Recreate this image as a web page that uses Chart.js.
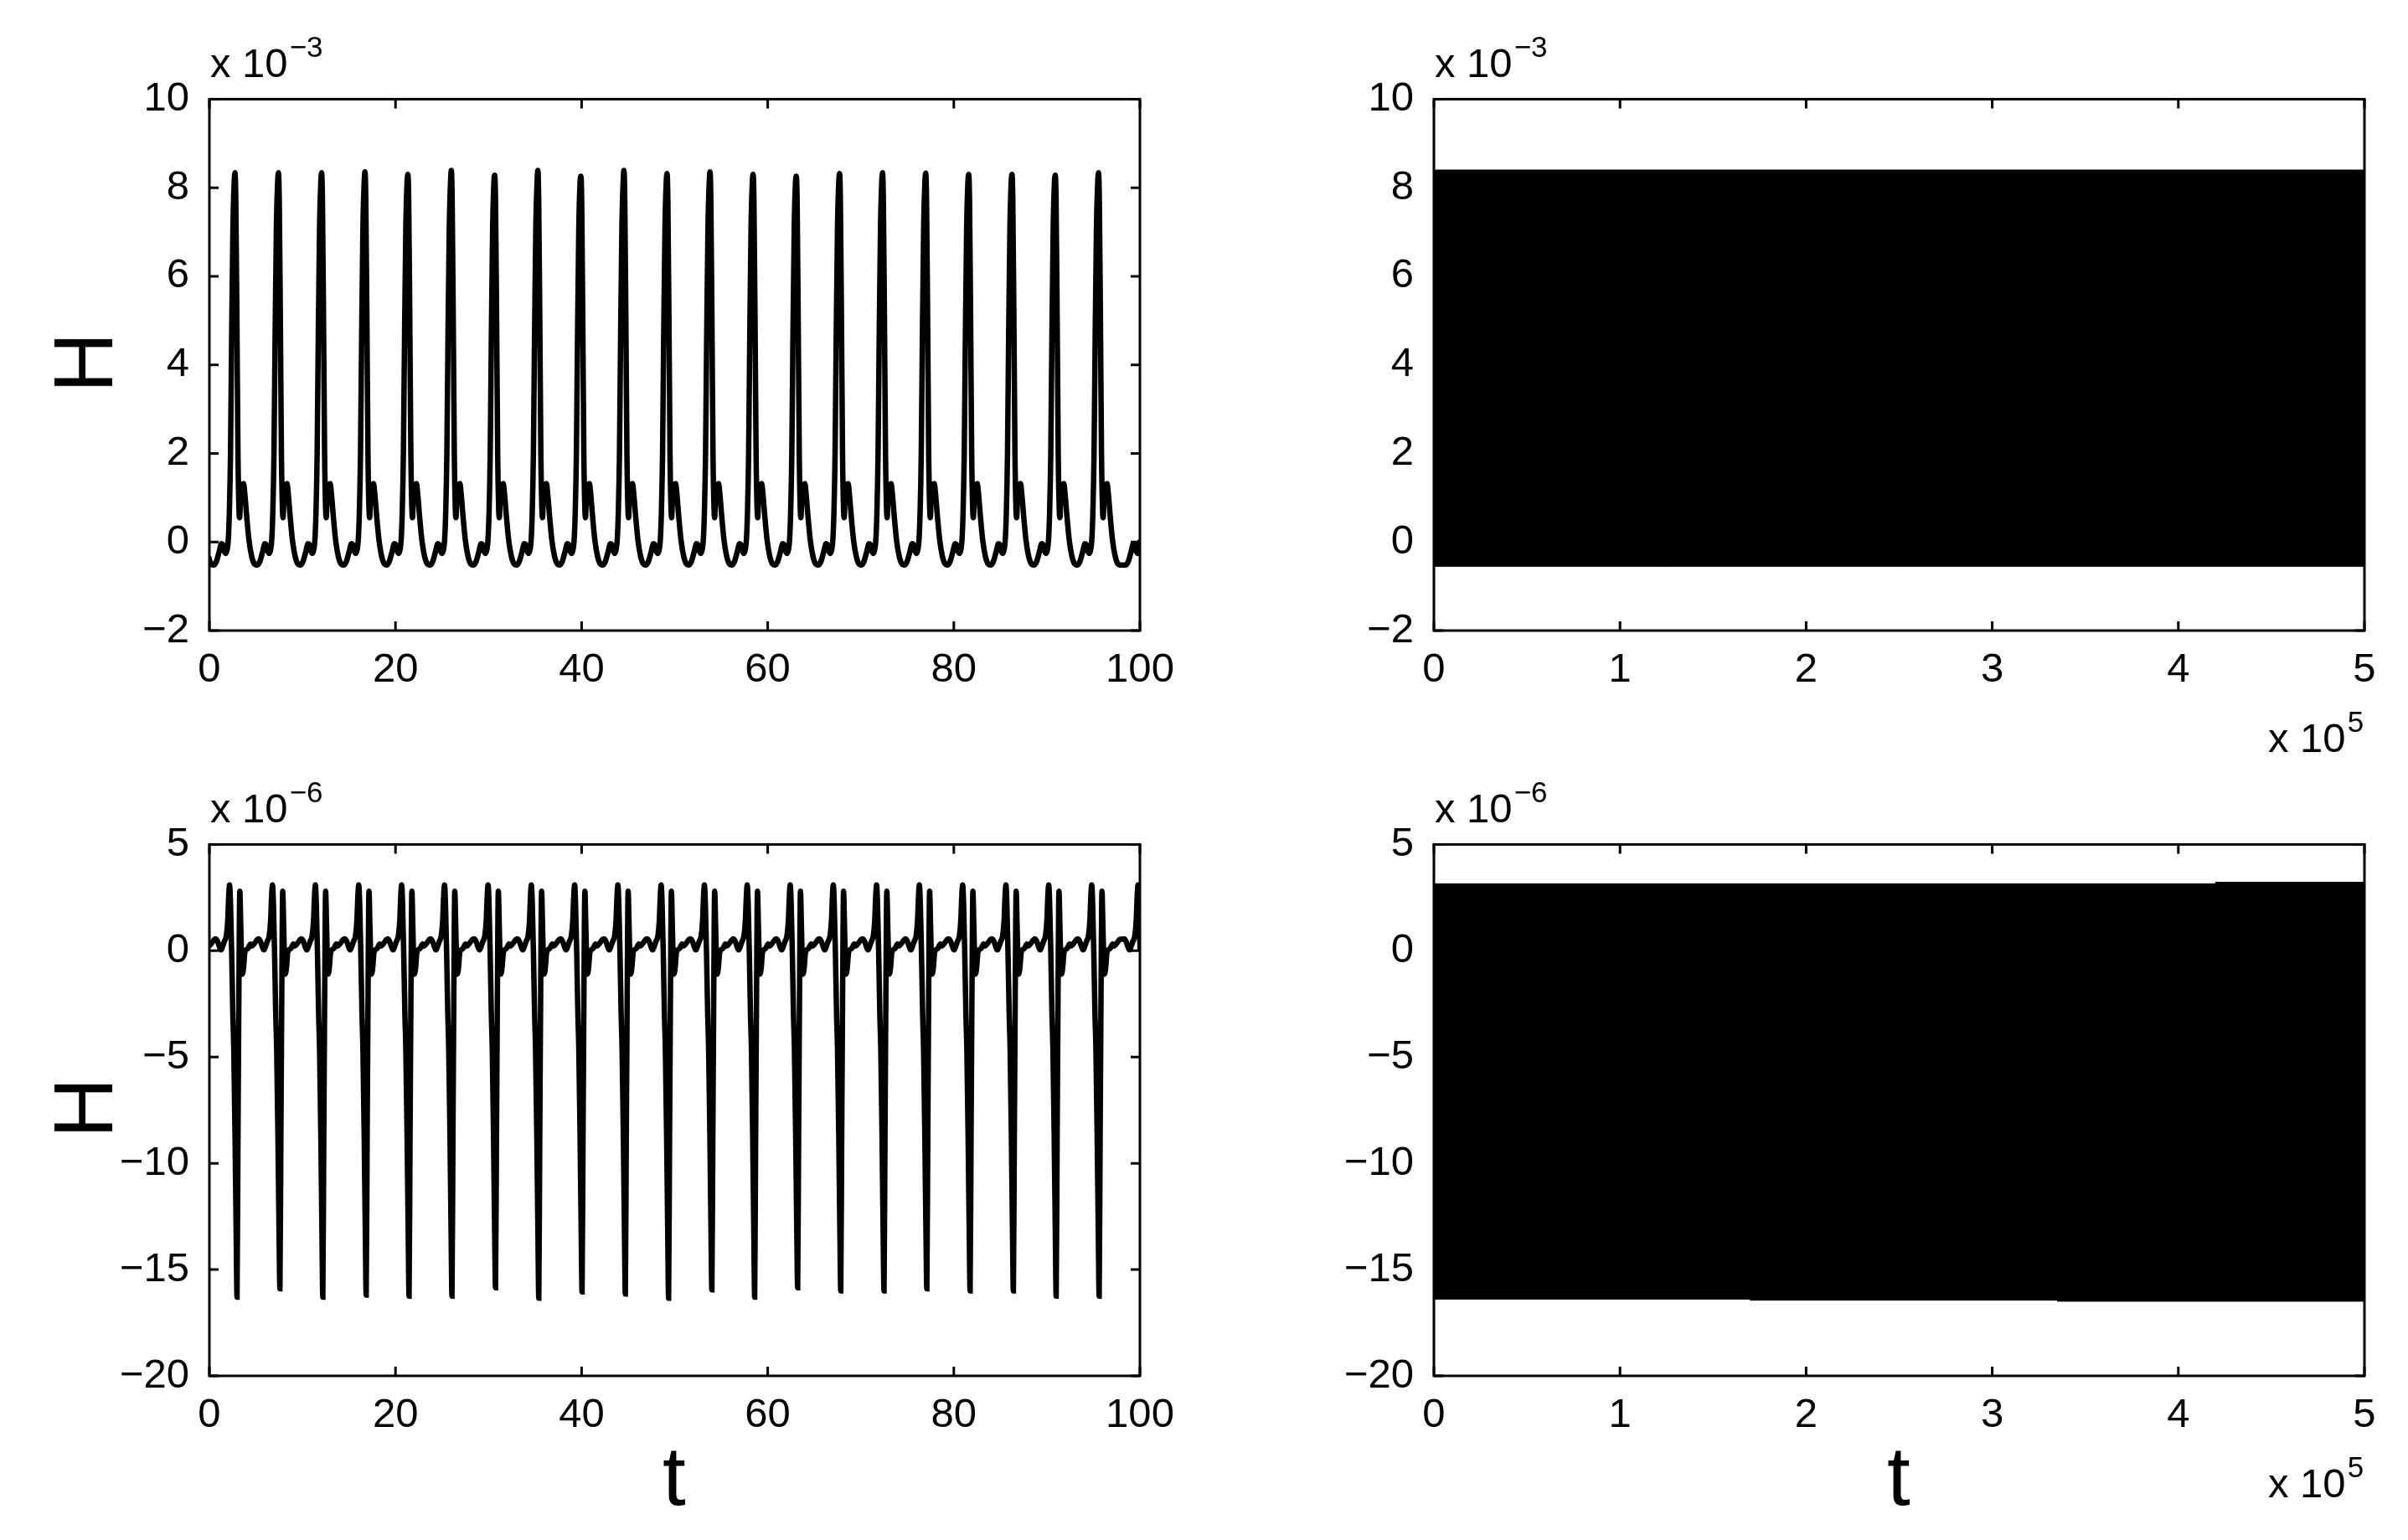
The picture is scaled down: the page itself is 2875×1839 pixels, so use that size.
<!DOCTYPE html>
<html>
<head>
<meta charset="utf-8">
<script src="https://cdn.jsdelivr.net/npm/chart.js@4.4.0/dist/chart.umd.min.js"></script>
<style>
  body { margin: 0; background: #fff; }
  #page { position: relative; width: 2875px; height: 1839px; overflow: hidden; background: #fff;
          font-family: "Liberation Sans", Arial, Helvetica, sans-serif; color: #000; }
  #page canvas { position: absolute; }
  .lbl { position: absolute; line-height: 1; white-space: nowrap; }
</style>
</head>
<body>
<div id="page">
  <canvas id="tl"></canvas>
  <canvas id="tr"></canvas>
  <canvas id="bl"></canvas>
  <canvas id="br"></canvas>
</div>
<script>
// top row values are in units of 1e-3, bottom row in units of 1e-6
// right column time is in units of 1e5

// tick labels
const leftXTicks = [0, 20, 40, 60, 80, 100];
const rightXTicks = [0, 1, 2, 3, 4, 5];
const topYTicks = [-2, 0, 2, 4, 6, 8, 10];
const bottomYTicks = [-20, -15, -10, -5, 0, 5];

// top-left: times and heights of the big peaks (first and last lie outside 0..100)
const tlPeakT = [-1.89, 2.75, 7.42, 12.06, 16.72, 21.33, 26.0, 30.66, 35.3, 39.92, 44.55, 49.18,
                 53.8, 58.43, 63.07, 67.72, 72.34, 76.98, 81.6, 86.25, 90.9, 95.55, 100.75];
const tlPeakH = [8.3, 8.34, 8.34, 8.34, 8.36, 8.3, 8.39, 8.28, 8.39, 8.26, 8.39, 8.32,
                 8.36, 8.3, 8.26, 8.32, 8.34, 8.33, 8.3, 8.3, 8.28, 8.34, 8.3];
// one cycle read around a peak: offset from the peak time, value
const tlShapeDt = [-2.26, -2.0, -1.7, -1.45, -1.3, -1.15, -1.0, -0.85, -0.72, -0.6, -0.48, -0.36, -0.22, -0.09, 0,
                   0.09, 0.2, 0.32, 0.43, 0.5, 0.58, 0.66, 0.74, 0.82, 0.92, 1.05, 1.25, 1.5, 1.8, 2.1, 2.3];
const tlShapeV  = [-0.52, -0.44, -0.22, -0.04, -0.06, -0.2, -0.26, -0.18, 0.05, 0.7, 2.0, 4.6, 7.1, 8.1, 8.34,
                   7.7, 5.2, 2.0, 0.75, 0.55, 0.95, 1.3, 1.0, 1.2, 1.32, 1.1, 0.6, 0.05, -0.33, -0.5, -0.52];
const tlPeakIdx = 14;

// bottom-left: times and depths of the negative spikes
const blSpikeT = [-1.66, 2.97, 7.58, 12.19, 16.85, 21.46, 26.07, 30.75, 35.4, 40.05, 44.7, 49.35,
                  54.0, 58.6, 63.22, 67.85, 72.5, 77.1, 81.75, 86.4, 91.0, 95.62, 100.6];
const blSpikeV = [-16.2, -16.3, -15.9, -16.3, -16.2, -16.25, -16.25, -15.85, -16.35, -16.05, -16.15, -16.35,
                  -15.95, -16.3, -15.85, -16.0, -16.0, -15.9, -16.0, -16.0, -16.25, -16.25, -16.2];
const blShapeDt = [-2.3, -2.1, -1.9, -1.72, -1.55, -1.35, -1.15, -1.0, -0.9, -0.8, -0.7, -0.58, -0.45, -0.35, -0.22, -0.1, 0,
                   0.1, 0.2, 0.3, 0.4, 0.5, 0.58, 0.7, 0.85, 1.0, 1.2, 1.45, 1.6, 1.8, 2.05, 2.2];
const blShapeV  = [0.55, 0.45, 0.2, 0.04, 0.2, 0.45, 0.7, 1.4, 2.5, 3.1, 2.2, 0.0, -3.0, -4.6, -8.5, -13, -16.3,
                   -9, -2, 2.8, 1.2, -0.6, -1.1, -0.8, -0.05, 0.05, 0.12, 0.32, 0.22, 0.3, 0.45, 0.53];
const blSpikeIdx = 16;

// right column: envelope of the dense oscillation
const trT = [0, 5];
const trUpper = [8.4, 8.4];
const trLower = [-0.55, -0.55];
const brT = [0, 1.7, 3.35, 4.2, 5];
const brUpper = [3.15, 3.15, 3.15, 3.22, 3.22];
const brLower = [-16.39, -16.44, -16.49, -16.49, -16.49];

const FONT = '"Liberation Sans", Arial, Helvetica, sans-serif';
const page = document.getElementById('page');

function buildCycles(times, extremes, shapeDt, shapeV, idx) {
    const pts = [];
    times.forEach((t0, i) => {
        shapeDt.forEach((dt, j) => {
            pts.push({ x: t0 + dt, y: j === idx ? extremes[i] : shapeV[j] });
        });
    });
    return pts;
}

function xy(xs, ys) {
    return xs.map((x, i) => ({ x: x, y: ys[i] }));
}

function fmt(v) {
    return v < 0 ? '\u2212' + (-v) : String(v);
}

// box with inward ticks on all four sides, like the original
const matlabFrame = {
    id: 'matlabFrame',
    afterDatasetsDraw(chart) {
        const ctx = chart.ctx;
        const a = chart.chartArea;
        const x = chart.scales.x, y = chart.scales.y;
        const len = 11;
        ctx.save();
        ctx.strokeStyle = '#000';
        ctx.lineWidth = 3;
        ctx.beginPath();
        x.ticks.forEach(tk => {
            const px = x.getPixelForValue(tk.value);
            ctx.moveTo(px, a.bottom); ctx.lineTo(px, a.bottom - len);
            ctx.moveTo(px, a.top); ctx.lineTo(px, a.top + len);
        });
        y.ticks.forEach(tk => {
            const py = y.getPixelForValue(tk.value);
            ctx.moveTo(a.left, py); ctx.lineTo(a.left + len, py);
            ctx.moveTo(a.right, py); ctx.lineTo(a.right - len, py);
        });
        ctx.stroke();
        ctx.strokeRect(a.left, a.top, a.right - a.left, a.bottom - a.top);
        ctx.restore();
    }
};

function makePanel(id, area, datasets, xTicks, yTicks) {
    const padL = 200, padT = 40, padR = 60, padB = 90;
    const cv = document.getElementById(id);
    cv.width = area.r - area.l + padL + padR;
    cv.height = area.b - area.t + padT + padB;
    cv.style.left = (area.l - padL) + 'px';
    cv.style.top = (area.t - padT) + 'px';
    const tickFont = { family: FONT, size: 49 };
    return new Chart(cv, {
        type: 'line',
        data: { datasets: datasets },
        options: {
            responsive: false,
            animation: false,
            devicePixelRatio: 1,
            layout: { padding: { top: padT, right: padR, left: 0, bottom: 0 } },
            plugins: { legend: { display: false }, tooltip: { enabled: false } },
            elements: { point: { radius: 0 } },
            scales: {
                x: {
                    type: 'linear',
                    min: xTicks[0],
                    max: xTicks[xTicks.length - 1],
                    grid: { display: false },
                    border: { display: false },
                    afterBuildTicks: s => { s.ticks = xTicks.map(v => ({ value: v })); },
                    afterFit: s => { s.height = padB; },
                    ticks: { color: '#000', font: tickFont, padding: 10, maxRotation: 0, autoSkip: false, callback: fmt }
                },
                y: {
                    type: 'linear',
                    min: yTicks[0],
                    max: yTicks[yTicks.length - 1],
                    grid: { display: false },
                    border: { display: false },
                    afterBuildTicks: s => { s.ticks = yTicks.map(v => ({ value: v })); },
                    afterFit: s => { s.width = padL; },
                    ticks: { color: '#000', font: tickFont, padding: 16, autoSkip: false, callback: fmt }
                }
            }
        },
        plugins: [matlabFrame]
    });
}

function lineSet(points) {
    return {
        data: points,
        borderColor: '#000',
        borderWidth: 6.5,
        pointRadius: 0,
        cubicInterpolationMode: 'monotone',
        fill: false,
        clip: 0
    };
}

function bandSets(xs, upper, lower) {
    return [
        { data: xy(xs, upper), borderColor: '#000', borderWidth: 1, pointRadius: 0, stepped: 'before', fill: false, clip: 0 },
        { data: xy(xs, lower), borderColor: '#000', borderWidth: 1, pointRadius: 0, stepped: 'before',
          fill: '-1', backgroundColor: '#000', clip: 0 }
    ];
}

makePanel('tl', { l: 250, t: 113, r: 1361, b: 753 },
    [lineSet(buildCycles(tlPeakT, tlPeakH, tlShapeDt, tlShapeV, tlPeakIdx))], leftXTicks, topYTicks);
makePanel('tr', { l: 1712, t: 113, r: 2823, b: 753 },
    bandSets(trT, trUpper, trLower), rightXTicks, topYTicks);
makePanel('bl', { l: 250, t: 1003, r: 1361, b: 1643 },
    [lineSet(buildCycles(blSpikeT, blSpikeV, blShapeDt, blShapeV, blSpikeIdx))], leftXTicks, bottomYTicks);
makePanel('br', { l: 1712, t: 1003, r: 2823, b: 1643 },
    bandSets(brT, brUpper, brLower), rightXTicks, bottomYTicks);

// text placed by its baseline
function addText(txt, x, base, size, align) {
    const el = document.createElement('div');
    el.className = 'lbl';
    el.textContent = txt;
    el.style.fontSize = size + 'px';
    el.style.top = (base - 0.8465 * size) + 'px';
    if (align === 'center') {
        el.style.left = x + 'px';
        el.style.transform = 'translateX(-50%)';
    } else if (align === 'right') {
        el.style.right = (2875 - x) + 'px';
    } else {
        el.style.left = x + 'px';
    }
    page.appendChild(el);
    return el;
}

function addMultiplier(x, base, exp) {
    const el = addText('x 10', x, base, 49, 'left');
    const w = el.getBoundingClientRect().width;
    addText(exp, x + w + 2, base - 24, 35, 'left');
}

addMultiplier(251, 92, '\u22123');
addMultiplier(1713, 92, '\u22123');
addMultiplier(251, 982, '\u22126');
addMultiplier(1713, 982, '\u22126');
addMultiplier(2708, 898, '5');
addMultiplier(2708, 1788, '5');

['H', 'H'].forEach((s, i) => {
    const el = document.createElement('div');
    el.className = 'lbl';
    el.textContent = s;
    el.style.fontSize = '100px';
    el.style.left = '99px';
    el.style.top = (i === 0 ? 433 : 1323) + 'px';
    el.style.transform = 'translate(-50%, -50%) rotate(-90deg)';
    page.appendChild(el);
});

addText('t', 805, 1797, 100, 'center');
addText('t', 2267, 1797, 100, 'center');
</script>
</body>
</html>
